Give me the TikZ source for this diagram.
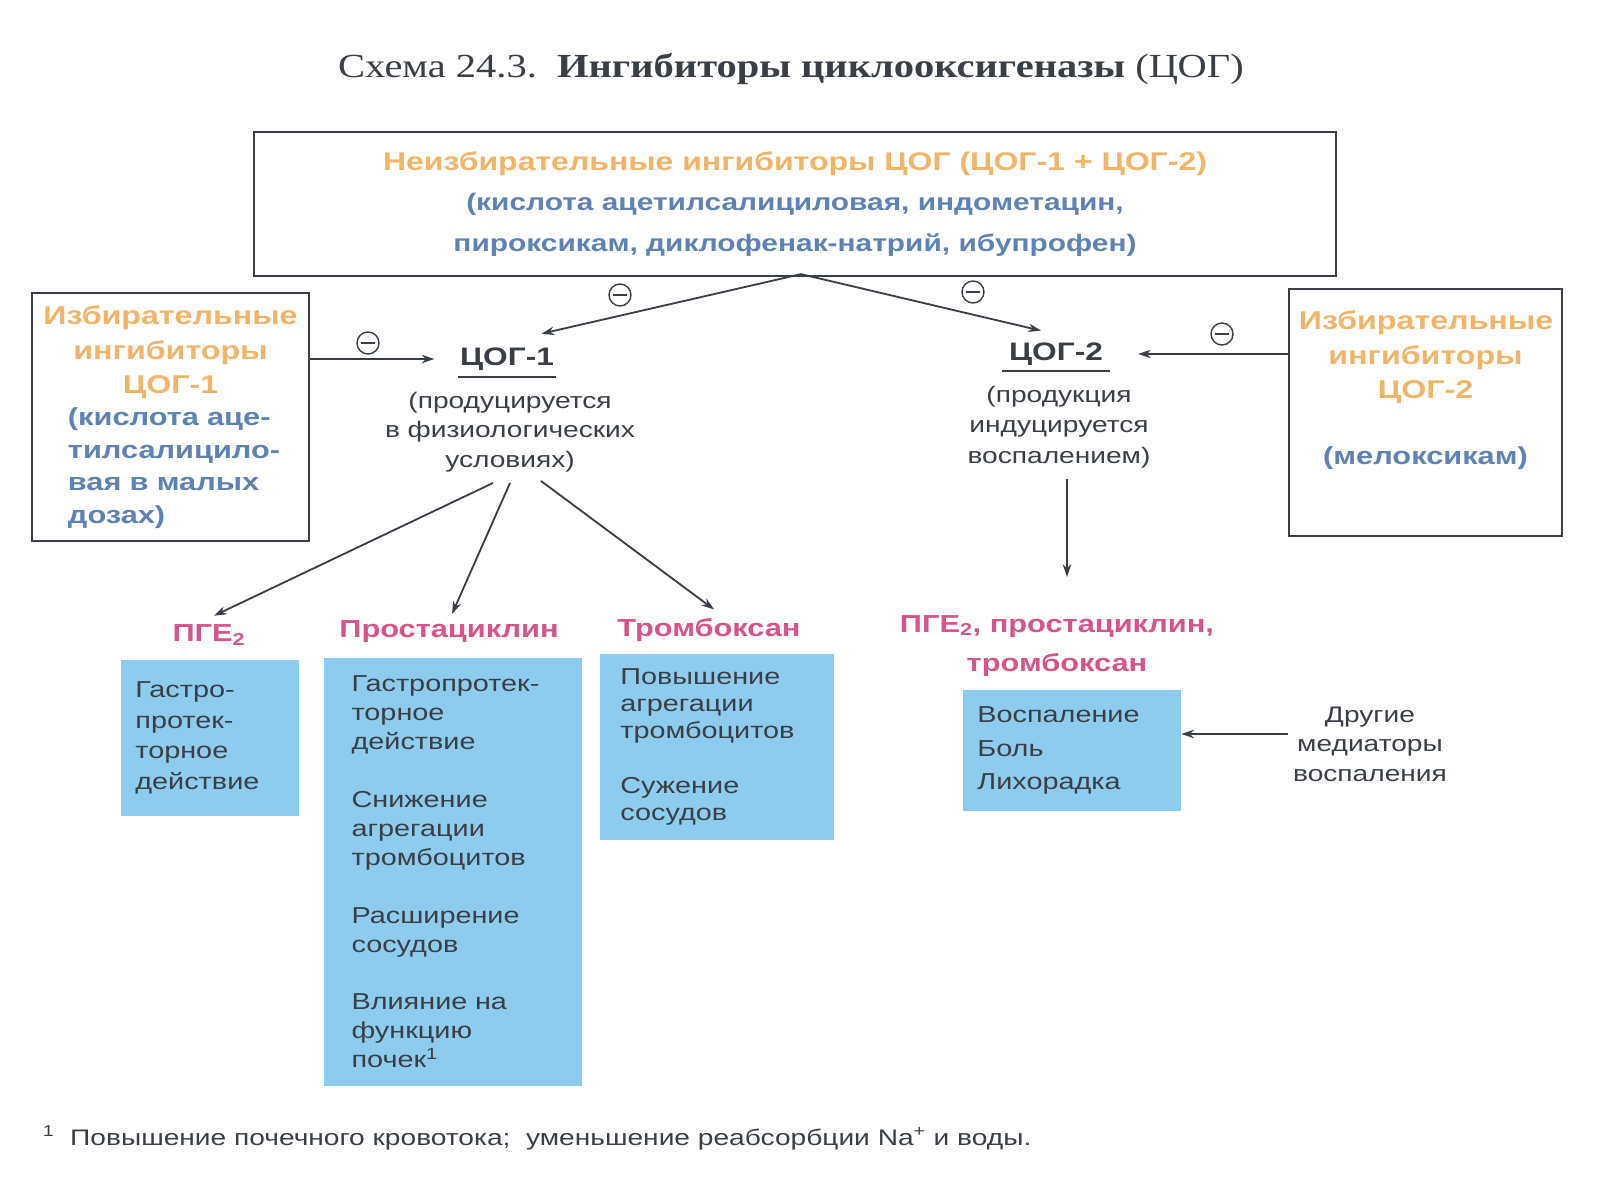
\documentclass[tikz,border=0pt]{standalone}
\usepackage{fontspec}
\setmainfont{Liberation Sans}[FakeStretch=1.25]
\newfontfamily\titlefont{Liberation Serif}[FakeStretch=1.2]
\usetikzlibrary{positioning, arrows.meta, calc}
\definecolor{cInk}     {HTML}{3A3F46}
\definecolor{cOrange}  {HTML}{F2B468}
\definecolor{cBlueText}{HTML}{5F82B4}
\definecolor{cPink}    {HTML}{D6538C}
\definecolor{cBoxFill} {HTML}{8DCCEE}
\newcommand{\fsz}[2]{\fontsize{#1}{#2}\selectfont}
\hyphenpenalty=10000
\exhyphenpenalty=10000

\begin{document}
\begin{tikzpicture}[x=0.025cm, y=-0.025cm,
    every node/.style={text=cInk},
    outline/.style={draw=cInk, line width=1.6pt, inner sep=0pt},
    effbox/.style={fill=cBoxFill, inner ysep=0pt},
    heading/.style={text=cPink, font=\bfseries\fsz{17.5}{24}},
    arr/.style={-{Stealth[length=9pt, width=6pt]}, draw=cInk, line width=1.3pt},
    inhib/.style={circle, draw=cInk, line width=1pt, minimum size=0.55cm, inner sep=0pt,
      path picture={\draw[cInk, line width=1pt]
        ([xshift=-0.17cm]path picture bounding box.center) -- ([xshift=0.17cm]path picture bounding box.center);}},
  ]
  \useasboundingbox (0,0) rectangle (1600,1200);

  \node (title) at (791, 69) {\titlefont\fsz{24}{28}Схема 24.3.\ \ \textbf{Ингибиторы циклооксигеназы} (ЦОГ)};

  % inhibitors
  \node[outline, minimum width=27.05cm, minimum height=3.6cm, align=center, font=\bfseries\fsz{17}{29}]
    (nonSel) at (795, 204) {\textcolor{cOrange}{\fsz{18.2}{29}Неизбирательные ингибиторы ЦОГ (ЦОГ-1 + ЦОГ-2)}\\
      \textcolor{cBlueText}{(кислота ацетилсалициловая, индометацин,}\\
      \textcolor{cBlueText}{пироксикам, диклофенак-натрий, ибупрофен)}};
  \node[outline, minimum width=6.925cm, minimum height=6.2cm, inner xsep=0.25cm, text width=6.425cm,
    font=\bfseries\fsz{17.5}{23}] (selOne) at (170.5, 417)
    {{\centering\color{cOrange}\fsz{18.3}{24.5}Избирательные\\ингибиторы\\ЦОГ-1\par}
     {\raggedright\leftskip=0.65cm\color{cBlueText}(кислота аце-\\тилсалицило-\\вая в малых\\дозах)\par}};
  \node[outline, minimum width=6.825cm, minimum height=6.175cm, inner xsep=0.25cm, text width=6.325cm,
    font=\bfseries\fsz{17.5}{24}] (selTwo) at (1425.5, 412.5)
    {{\centering\color{cOrange}\fsz{18.3}{24.5}Избирательные\\ингибиторы\\ЦОГ-2\\[0.8cm]
      \color{cBlueText}\fsz{17.5}{24}(мелоксикам)\\[0.4cm]\mbox{}\par}};

  % enzymes
  \node[inner xsep=1pt, font=\bfseries\fsz{18}{22}] (coxOne) at (507, 359) {ЦОГ-1};
  \draw[cInk, line width=1pt] ([yshift=-0.29cm]coxOne.base west) -- ([yshift=-0.29cm]coxOne.base east);
  \node[align=center, font=\fsz{16}{21}] (coxOneNote) at (510, 432)
    {(продуцируется\\в физиологических\\условиях)};
  \node[inner xsep=5pt, font=\bfseries\fsz{18}{22}] (coxTwo) at (1056, 354) {ЦОГ-2};
  \draw[cInk, line width=1pt] ([yshift=-0.27cm]coxTwo.base west) -- ([yshift=-0.27cm]coxTwo.base east);
  \node[align=center, font=\fsz{16}{21.5}] (coxTwoNote) at (1059, 427)
    {(продукция\\индуцируется\\воспалением)};

  \node[inhib] (inhA) at (620, 295) {};
  \node[inhib] (inhB) at (973, 292) {};
  \node[inhib] (inhC) at (368, 343) {};
  \node[inhib] (inhD) at (1222, 334) {};

  \draw[arr] ($(nonSel.south)+(6,-3)$) -- ($(coxOne.north east)+(-14,-9)$);
  \draw[arr] ($(nonSel.south)+(6,-3)$) -- ($(coxTwo.north)+(-15,-7)$);
  \draw[arr] (selOne.east |- coxOne) -- ($(coxOne.west)+(-24,0)$);
  \draw[arr] (selTwo.west |- coxTwo) -- ($(coxTwo.east)+(28,0)$);

  % products
  \node[heading] (hPge) at (209, 635) {ПГЕ\textsubscript{2}};
  \node[heading] (hPgi) at (449, 632) {Простациклин};
  \node[heading] (hTx)  at (709, 630) {Тромбоксан};
  \node[heading, align=center, font=\bfseries\fsz{17.5}{28}] (hMix) at (1057, 646)
    {ПГЕ\textsubscript{2}, простациклин,\\тромбоксан};

  \draw[arr] ($(coxOneNote.south)+(-17,6)$) -- ($(hPge.north)+(5,-4)$);
  \draw[arr] ($(coxOneNote.south)+(0,6)$) -- ($(hPgi.north)+(3,-2)$);
  \draw[arr] ($(coxOneNote.south)+(31,4)$) -- ($(hTx.north)+(5,-4)$);
  \coordinate (mixTop) at (1067, 577);
  \draw[arr] ($(coxTwoNote.south)+(8,6)$) -- (mixTop);

  % effects
  \node[effbox, minimum width=4.45cm, minimum height=3.9cm, inner xsep=0.36cm, text width=3.73cm,
    align=left, font=\fsz{16.4}{21.7}] (effPge) at (210, 738)
    {Гастро-\\протек-\\торное\\действие};
  \node[effbox, minimum width=6.45cm, minimum height=10.7cm, inner xsep=0.69cm, text width=5.07cm,
    align=left, font=\fsz{16.4}{20.6}] (effPgi) at (453, 872)
    {Гастропротек-\\торное\\действие\\[0.72cm]
     Снижение\\агрегации\\тромбоцитов\\[0.72cm]
     Расширение\\сосудов\\[0.72cm]
     Влияние на\\функцию\\почек\textsuperscript{1}};
  \node[effbox, minimum width=5.85cm, minimum height=4.65cm, inner xsep=0.51cm, text width=4.83cm,
    align=left, font=\fsz{16.4}{19.2}] (effTx) at (717, 747)
    {Повышение\\агрегации\\тромбоцитов\\[0.72cm]
     Сужение\\сосудов};
  \node[effbox, minimum width=5.45cm, minimum height=3.025cm, inner xsep=0.36cm, text width=4.73cm,
    align=left, font=\fsz{16.4}{24}] (effInfl) at (1072, 750.5)
    {Воспаление\\Боль\\Лихорадка};

  \node[align=center, font=\fsz{16}{21}] (others) at (1370, 744)
    {Другие\\медиаторы\\воспаления};
  \draw[arr] ($(others.west)+(0,-10)$) -- ($(others.west -| effInfl.east)+(0,-10)$);

  \node[anchor=west, font=\fsz{16}{20}] (note) at (38, 1138)
    {\textsuperscript{1}\ \ Повышение почечного кровотока;\ \ уменьшение реабсорбции Na\textsuperscript{+} и воды.};
\end{tikzpicture}
\end{document}
